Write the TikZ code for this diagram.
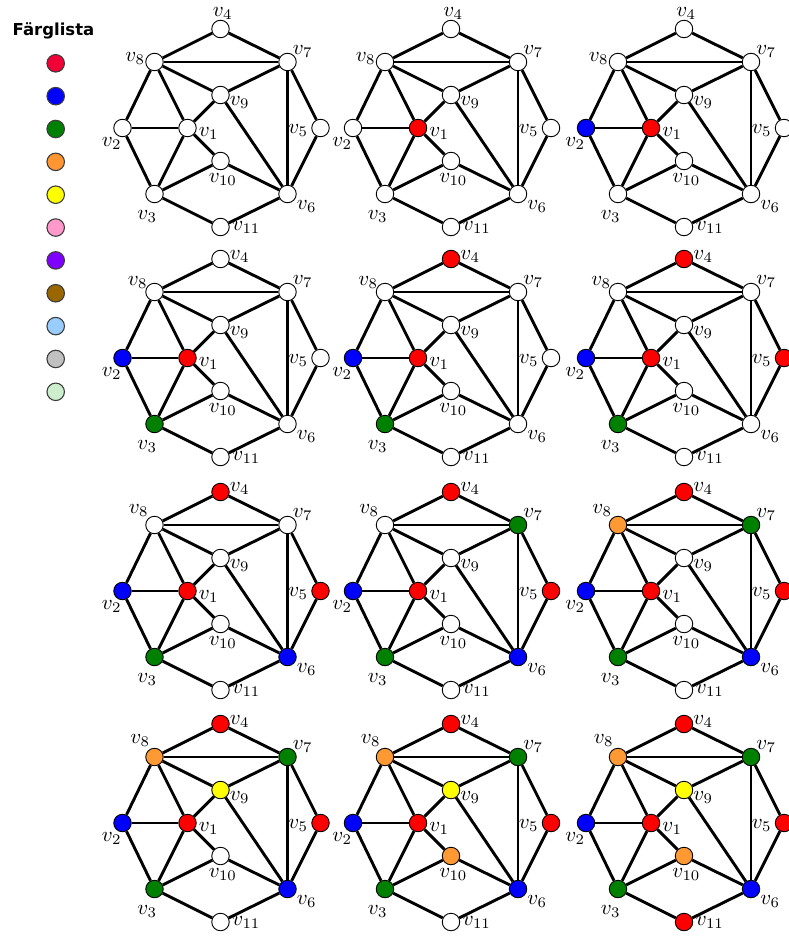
\documentclass[tikz,border=0pt]{standalone}
\usepackage{fontspec}
\newfontfamily\legfont{DejaVu Sans}
\definecolor{gR}{RGB}{255,0,0}
\definecolor{gB}{RGB}{0,0,255}
\definecolor{gG}{RGB}{0,128,0}
\definecolor{gO}{RGB}{255,153,51}
\definecolor{gY}{RGB}{255,255,0}
\definecolor{lR}{RGB}{240,0,55}
\definecolor{lB}{RGB}{0,0,255}
\definecolor{lG}{RGB}{0,128,0}
\definecolor{lO}{RGB}{255,150,50}
\definecolor{lY}{RGB}{255,255,0}
\definecolor{lP}{RGB}{255,153,204}
\definecolor{lV}{RGB}{128,0,255}
\definecolor{lN}{RGB}{153,102,0}
\definecolor{lC}{RGB}{153,204,255}
\definecolor{lS}{RGB}{192,192,192}
\definecolor{lL}{RGB}{204,238,204}
\definecolor{legline}{RGB}{60,60,60}
\tikzset{
  vx/.style={circle, draw=black, line width=0.9pt, fill=white, minimum size=17.5pt, inner sep=0pt},
  edge/.style={line width=2.9pt, black},
  lbl/.style={inner sep=0pt, scale=2.1},
  leg/.style={circle, draw=legline, line width=1.1pt, minimum size=17.5pt, inner sep=0pt},
  n1/.style={}, n2/.style={}, n3/.style={}, n4/.style={}, n5/.style={}, n6/.style={},
  n7/.style={}, n8/.style={}, n9/.style={}, n10/.style={}, n11/.style={}
}
% #1 prefix, #2 x, #3 y, #4 row number, #5 colour styles
\newcommand\gpanel[5]{%
\begin{scope}[shift={(#2,#3)}, #5]
  \node[vx,n1] (#1v1) at (0,0) {};
  \node[vx,n2] (#1v2) at (-65,0) {};
  \node[vx,n3] (#1v3) at (-33,66) {};
  \node[vx,n4] (#1v4) at (33,-99) {};
  \node[vx,n5] (#1v5) at (133,0) {};
  \node[vx,n6] (#1v6) at (100,66) {};
  \node[vx,n7] (#1v7) at (100,-66) {};
  \node[vx,n8] (#1v8) at (-33,-66) {};
  \node[vx,n9] (#1v9) at (33,-33) {};
  \node[vx,n10] (#1v10) at (33,33) {};
  \node[vx,n11] (#1v11) at (33,99) {};
  \foreach \a/\b in {4/8,4/7,8/7,8/9,8/1,8/2,7/9,7/6,7/5,9/1,9/6,2/1,2/3,1/3,1/10,10/3,10/6,5/6,3/11,11/6}
    \draw[edge] (#1v\a) -- (#1v\b);
  \node[lbl, anchor=base west] (#1l1) at (11,8) {$v_{1}$};
  \node[lbl, anchor=base west] (#1l2) at (-86,18.5) {$v_{2}$};
  \node[lbl, anchor=base west] (#1l3) at (-50.5,91) {$v_{3}$};
  \ifcase#4\or
    \node[lbl, anchor=base west] (#1l4) at (25,-112) {$v_{4}$};
    \node[lbl, anchor=base east] (#1l8) at (-42,-66.5) {$v_{8}$};
  \or
    \node[lbl, anchor=base west] (#1l4) at (42,-99) {$v_{4}$};
    \node[lbl, anchor=base east] (#1l8) at (-39.5,-73) {$v_{8}$};
  \or
    \node[lbl, anchor=base west] (#1l4) at (42,-100) {$v_{4}$};
    \node[lbl, anchor=base east] (#1l8) at (-38.5,-78) {$v_{8}$};
  \else
    \node[lbl, anchor=base west] (#1l4) at (42,-99) {$v_{4}$};
    \node[lbl, anchor=base east] (#1l8) at (-37,-80) {$v_{8}$};
  \fi
  \node[lbl, anchor=base east] (#1l5) at (121,5) {$v_{5}$};
  \node[lbl, anchor=base west] (#1l6) at (109,81) {$v_{6}$};
  \node[lbl, anchor=base west] (#1l7) at (105,-74) {$v_{7}$};
  \node[lbl, anchor=base west] (#1l9) at (42,-22.5) {$v_{9}$};
  \node[lbl, anchor=base west] (#1l10) at (21,54) {$v_{10}$};
  \node[lbl, anchor=base west] (#1l11) at (44.5,102) {$v_{11}$};
\end{scope}}
\begin{document}
\begin{tikzpicture}[x=1pt,y=-1pt]
\useasboundingbox (0,0) rectangle (789,937);
% legend
\node[anchor=base, inner sep=0pt, font=\legfont\bfseries\fontsize{16.5}{18}\selectfont] (title) at (53.5,35) {Färglista};
\foreach \c [count=\k from 0] in {lR,lB,lG,lO,lY,lP,lV,lN,lC,lS,lL}
  \node[leg, fill=\c] (leg\k) at (55.7,63.3+32.85*\k) {};
% panels
\gpanel{a}{187.5}{128}{1}{}
\gpanel{b}{418}{128}{1}{n1/.style={fill=gR}}
\gpanel{c}{651}{128}{1}{n1/.style={fill=gR}, n2/.style={fill=gB}}
\gpanel{d}{187.5}{358}{2}{n1/.style={fill=gR}, n2/.style={fill=gB}, n3/.style={fill=gG}}
\gpanel{e}{418}{358}{2}{n1/.style={fill=gR}, n2/.style={fill=gB}, n3/.style={fill=gG}, n4/.style={fill=gR}}
\gpanel{f}{651}{358}{2}{n1/.style={fill=gR}, n2/.style={fill=gB}, n3/.style={fill=gG}, n4/.style={fill=gR}, n5/.style={fill=gR}}
\gpanel{g}{187.5}{591}{3}{n1/.style={fill=gR}, n2/.style={fill=gB}, n3/.style={fill=gG}, n4/.style={fill=gR}, n5/.style={fill=gR}, n6/.style={fill=gB}}
\gpanel{h}{418}{591}{3}{n1/.style={fill=gR}, n2/.style={fill=gB}, n3/.style={fill=gG}, n4/.style={fill=gR}, n5/.style={fill=gR}, n6/.style={fill=gB}, n7/.style={fill=gG}}
\gpanel{i}{651}{591}{3}{n1/.style={fill=gR}, n2/.style={fill=gB}, n3/.style={fill=gG}, n4/.style={fill=gR}, n5/.style={fill=gR}, n6/.style={fill=gB}, n7/.style={fill=gG}, n8/.style={fill=gO}}
\gpanel{j}{187.5}{823}{4}{n1/.style={fill=gR}, n2/.style={fill=gB}, n3/.style={fill=gG}, n4/.style={fill=gR}, n5/.style={fill=gR}, n6/.style={fill=gB}, n7/.style={fill=gG}, n8/.style={fill=gO}, n9/.style={fill=gY}}
\gpanel{k}{418}{823}{4}{n1/.style={fill=gR}, n2/.style={fill=gB}, n3/.style={fill=gG}, n4/.style={fill=gR}, n5/.style={fill=gR}, n6/.style={fill=gB}, n7/.style={fill=gG}, n8/.style={fill=gO}, n9/.style={fill=gY}, n10/.style={fill=gO}}
\gpanel{l}{651}{823}{4}{n1/.style={fill=gR}, n2/.style={fill=gB}, n3/.style={fill=gG}, n4/.style={fill=gR}, n5/.style={fill=gR}, n6/.style={fill=gB}, n7/.style={fill=gG}, n8/.style={fill=gO}, n9/.style={fill=gY}, n10/.style={fill=gO}, n11/.style={fill=gR}}
\end{tikzpicture}
\end{document}
